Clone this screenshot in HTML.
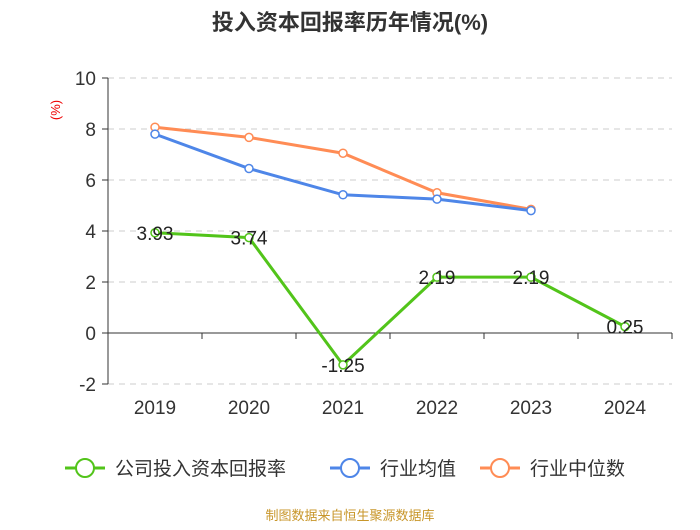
<!DOCTYPE html>
<html><head><meta charset="utf-8"><style>
body{margin:0;background:#fff;font-family:"Liberation Sans","Noto Sans CJK SC",sans-serif}
svg text{font-family:"Liberation Sans","Noto Sans CJK SC",sans-serif}
</style></head><body>
<svg id="c" width="700" height="525" xmlns="http://www.w3.org/2000/svg">
<text x="350" y="30" text-anchor="middle" font-size="22" font-weight="bold" fill="#333">投入资本回报率历年情况(%)</text>
<text transform="translate(60,110) rotate(-90)" text-anchor="middle" font-size="13" fill="#e00">(%)</text>
<g id="grid"></g><g id="series"></g>
<g>
<g><line x1="65" y1="468" x2="105" y2="468" stroke="#52c41a" stroke-width="3"/><circle cx="85" cy="468" r="9" fill="#fff" stroke="#52c41a" stroke-width="2"/><text x="115" y="475" font-size="19" fill="#333">公司投入资本回报率</text></g>
<g><line x1="330" y1="468" x2="370" y2="468" stroke="#4e86e8" stroke-width="3"/><circle cx="350" cy="468" r="9" fill="#fff" stroke="#4e86e8" stroke-width="2"/><text x="380" y="475" font-size="19" fill="#333">行业均值</text></g>
<g><line x1="480" y1="468" x2="520" y2="468" stroke="#ff8c55" stroke-width="3"/><circle cx="500" cy="468" r="9" fill="#fff" stroke="#ff8c55" stroke-width="2"/><text x="530" y="475" font-size="19" fill="#333">行业中位数</text></g>
</g>
<text x="350" y="520" text-anchor="middle" font-size="13" fill="#c8962a">制图数据来自恒生聚源数据库</text>
</svg>
<script>
const categories=["2019","2020","2021","2022","2023","2024"];
const roic=[3.93,3.74,-1.25,2.19,2.19,0.25];
const industryAvg=[7.8,6.45,5.42,5.25,4.8];
const industryMedian=[8.07,7.67,7.05,5.5,4.85];
const yTicks=[-2,0,2,4,6,8,10];
const NS="http://www.w3.org/2000/svg";
const x0=108,x1=672,step=(x1-x0)/categories.length;
const X=i=>x0+step*(i+0.5);
const Y=v=>333-v*25.5;
function el(t,a,p){const e=document.createElementNS(NS,t);for(const k in a)e.setAttribute(k,a[k]);p.appendChild(e);return e;}
const g=document.getElementById('grid'),s=document.getElementById('series');
yTicks.forEach(v=>{
 if(v!==0){const l=el('line',{x1:x0,x2:x1,y1:Y(v),y2:Y(v),stroke:'#ccc','stroke-dasharray':'6,5'},g);
 
 }
 const tk=el('line',{x1:x0-6,x2:x0,y1:Y(v),y2:Y(v),stroke:'#333'},g);
 
 
 const t=el('text',{x:x0-12,y:Y(v)+7,'text-anchor':'end','font-size':19,fill:'#333'},g);t.textContent=v;
 
 
});
const ya=el('line',{x1:x0,x2:x0,y1:Y(10),y2:Y(-2),stroke:'#333'},g);


const xa=el('line',{x1:x0,x2:x1,y1:Y(0),y2:Y(0),stroke:'#333'},g);


categories.forEach((c,i)=>{
 const tk=el('line',{x1:x0+step*(i+1),x2:x0+step*(i+1),y1:Y(0),y2:Y(0)+6,stroke:'#333'},g);
 
 
 const t=el('text',{x:X(i),y:414,'text-anchor':'middle','font-size':19,fill:'#333'},g);t.textContent=c;
 
 
});
function line(data,color,name,labels){
 const pts=data.map((v,i)=>X(i)+','+Y(v)).join(' ');
 const p=el('polyline',{points:pts,fill:'none',stroke:color,'stroke-width':3},s);
 
 
 data.forEach((v,i)=>{
  const c=el('circle',{cx:X(i),cy:Y(v),r:4,fill:'#fff',stroke:color,'stroke-width':1.5},s);
  
  
  if(labels){const t=el('text',{x:X(i),y:Y(v)+7,'text-anchor':'middle','font-size':19,fill:'#222'},s);t.textContent=v.toFixed(2);
  
  }
 });
}
line(industryMedian,'#ff8c55','industry-median',false);
line(industryAvg,'#4e86e8','industry-avg',false);
line(roic,'#52c41a','roic',true);
</script>
</body></html>
